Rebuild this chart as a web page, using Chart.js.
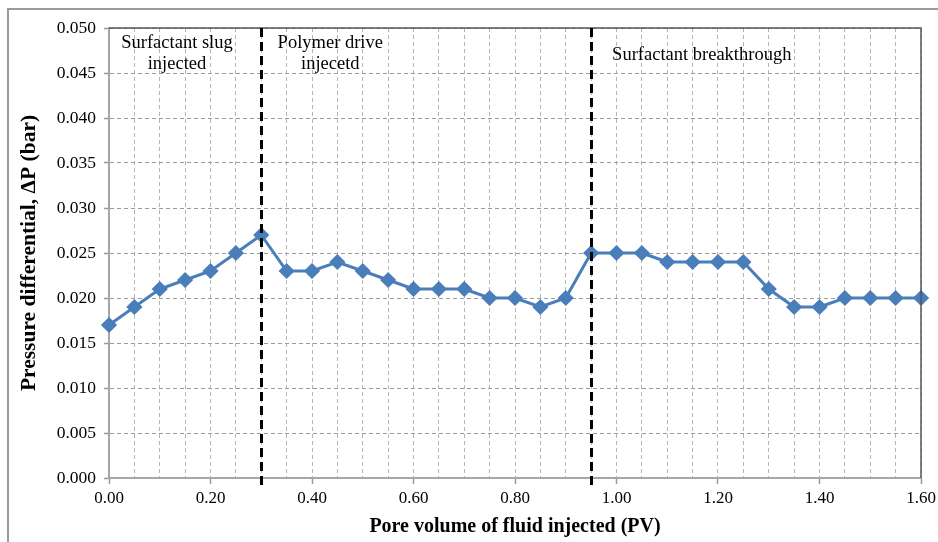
<!DOCTYPE html>
<html>
<head>
<meta charset="utf-8">
<script src="https://cdn.jsdelivr.net/npm/chart.js@4/dist/chart.umd.min.js"></script>
<style>
  html, body { margin: 0; padding: 0; background: #fff; }
  #wrap { width: 938px; height: 542px; position: relative; }
</style>
</head>
<body>
<div id="wrap"><canvas id="c" width="938" height="542"></canvas></div>
<script>
// ---- data ----
const poreVolume = [0.00,0.05,0.10,0.15,0.20,0.25,0.30,0.35,0.40,0.45,0.50,0.55,0.60,0.65,0.70,0.75,0.80,0.85,0.90,0.95,1.00,1.05,1.10,1.15,1.20,1.25,1.30,1.35,1.40,1.45,1.50,1.55,1.60];
const pressureDiff = [0.017,0.019,0.021,0.022,0.023,0.025,0.027,0.023,0.023,0.024,0.023,0.022,0.021,0.021,0.021,0.020,0.020,0.019,0.020,0.025,0.025,0.025,0.024,0.024,0.024,0.024,0.021,0.019,0.019,0.020,0.020,0.020,0.020];
const phaseBoundaries = [0.30, 0.95];
const phaseLabels = [
  { lines: ["Surfactant slug", "injected"], x: 0.134 },
  { lines: ["Polymer drive", "injecetd"], x: 0.436 },
  { lines: ["Surfactant breakthrough"], x: 1.168 }
];
const xTitle = "Pore volume of fluid injected (PV)";
const yTitle = "Pressure differential, \u0394P (bar)";

const points = poreVolume.map((x, i) => ({ x: x, y: pressureDiff[i] }));

const serif = "'Liberation Serif', 'Times New Roman', serif";

const decor = {
  id: 'decor',
  beforeDraw(chart) {
    const ctx = chart.ctx;
    ctx.save();
    ctx.fillStyle = '#fff';
    ctx.fillRect(0, 0, chart.width, chart.height);
    ctx.strokeStyle = '#9a9a9a';
    ctx.lineWidth = 2;
    ctx.strokeRect(8, 9, 960, 560);
    ctx.restore();
  },
  afterDatasetsDraw(chart) {
    const ctx = chart.ctx;
    const a = chart.chartArea;
    const xs = chart.scales.x;
    ctx.save();
    // plot area frame (top & right)
    ctx.strokeStyle = '#555';
    ctx.lineWidth = 1.5;
    ctx.beginPath();
    ctx.moveTo(a.left, a.top);
    ctx.lineTo(a.right, a.top);
    ctx.lineTo(a.right, a.bottom);
    ctx.stroke();
    // phase boundaries
    ctx.strokeStyle = '#000';
    ctx.lineWidth = 3;
    ctx.setLineDash([9, 5]);
    phaseBoundaries.forEach(v => {
      const px = Math.round(xs.getPixelForValue(v)) + 0.5;
      ctx.beginPath();
      ctx.moveTo(px, a.top);
      ctx.lineTo(px, a.bottom + 7);
      ctx.stroke();
    });
    ctx.setLineDash([]);
    // labels
    ctx.fillStyle = '#000';
    ctx.font = '18.5px ' + serif;
    ctx.textAlign = 'center';
    ctx.textBaseline = 'middle';
    phaseLabels.forEach((p) => {
      const px = xs.getPixelForValue(p.x);
      if (p.lines.length === 1) {
        ctx.fillText(p.lines[0], px, a.top + 27);
      } else {
        p.lines.forEach((t, j) => ctx.fillText(t, px, a.top + 15 + j * 21));
      }
    });
    ctx.restore();
  }
};

new Chart(document.getElementById('c'), {
  type: 'line',
  data: {
    datasets: [{
      data: points,
      borderColor: '#4A7EBB',
      backgroundColor: '#4A7EBB',
      borderWidth: 3,
      pointStyle: 'rectRot',
      pointRadius: 6,
      pointHoverRadius: 6,
      pointBackgroundColor: '#4A7EBB',
      pointBorderColor: '#4A7EBB',
      tension: 0,
      clip: false
    }]
  },
  options: {
    responsive: false,
    animation: false,
    events: [],
    layout: { padding: { left: 0, right: 17, top: 28, bottom: 0 } },
    plugins: { legend: { display: false }, tooltip: { enabled: false } },
    scales: {
      x: {
        type: 'linear',
        min: 0, max: 1.6,
        afterFit(s) { s.height = 64; s.paddingRight = 0; s.paddingLeft = 0; },
        ticks: {
          stepSize: 0.05,
          autoSkip: false,
          maxRotation: 0,
          padding: 4,
          color: '#000',
          font: { family: serif, size: 17 },
          callback(v) {
            const r = Math.round(v * 100);
            return r % 20 === 0 ? (r / 100).toFixed(2) : '';
          }
        },
        grid: {
          color: (c) => c.index === 0 ? 'rgba(0,0,0,0)' : '#b4b4b4',
          lineWidth: 1,
          tickLength: 6,
          tickWidth: 1.5,
          tickBorderDash: [],
          tickColor: (c) => {
            const r = Math.round(c.tick.value * 100);
            return r % 20 === 0 ? '#9a9a9a' : 'rgba(0,0,0,0)';
          }
        },
        border: { display: true, color: '#a6a6a6', width: 2, dash: [4, 3] },
        title: {
          display: true,
          text: xTitle,
          color: '#000',
          font: { family: serif, size: 20, weight: 'bold' },
          padding: { top: 0, bottom: 3 }
        }
      },
      y: {
        min: 0, max: 0.05,
        afterFit(s) { s.width = 109; s.paddingTop = 0; s.paddingBottom = 0; },
        ticks: {
          stepSize: 0.005,
          padding: 8,
          color: '#000',
          font: { family: serif, size: 17.5 },
          callback(v) { return v.toFixed(3); }
        },
        grid: {
          color: (c) => c.index === 0 ? 'rgba(0,0,0,0)' : '#9c9c9c',
          lineWidth: 1,
          tickLength: 5,
          tickWidth: 1.5,
          tickBorderDash: [],
          tickColor: '#9a9a9a'
        },
        border: { display: true, color: '#a6a6a6', width: 2, dash: [4, 3] },
        title: {
          display: true,
          text: yTitle,
          color: '#000',
          font: { family: serif, size: 21.5, weight: 'bold' },
          padding: { top: 17, bottom: 0 }
        }
      }
    }
  },
  plugins: [decor]
});
</script>
</body>
</html>
